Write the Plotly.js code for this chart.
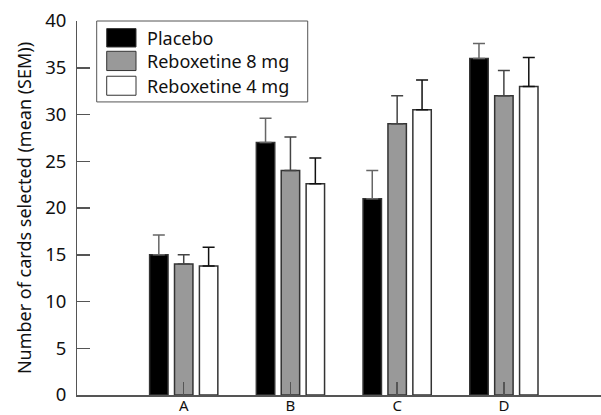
<!DOCTYPE html>
<html>
<head>
<meta charset="utf-8">
<script src="https://cdn.plot.ly/plotly-3.0.1.min.js"></script>
<style>html,body{margin:0;padding:0;background:#fff;}#chart{width:601px;height:415px;}</style>
</head>
<body>
<div id="chart"></div>
<script>
const categories = ["A", "B", "C", "D"];
const seriesNames = ["Placebo", "Reboxetine 8 mg", "Reboxetine 4 mg"];
const placebo = [15, 27, 21, 36];
const reb8 = [14, 24, 29, 32];
const reb4 = [13.8, 22.6, 30.5, 33];
const placeboSem = [2.1, 2.6, 3.0, 1.6];
const reb8Sem = [1.0, 3.6, 3.0, 2.7];
const reb4Sem = [2.0, 2.75, 3.2, 3.1];
const yTicks = [0, 5, 10, 15, 20, 25, 30, 35, 40];

const values = [placebo, reb8, reb4];
const sems = [placeboSem, reb8Sem, reb4Sem];
const fills = ["#000000", "#999999", "#ffffff"];
const errColors = ["#666666", "#444444", "#111111"];
const FONT = "Noto Sans, Lato, sans-serif";

const xIdx = categories.map((c, i) => i);
const traces = values.map((v, k) => ({
  type: "bar",
  name: seriesNames[k],
  x: xIdx,
  y: v,
  marker: {color: fills[k], line: {color: "#333333", width: 1.5}},
  error_y: {type: "data", symmetric: false, array: sems[k], arrayminus: v.map(() => 0),
            color: errColors[k], thickness: 1.5, width: 6},
  showlegend: false,
  hoverinfo: "skip"
}));

// custom legend (paper coordinates)
const legBox = {x0: 0.0376, x1: 0.4403, y0: 0.7836, y1: 1.0};
const sw = [[0.9797, 0.9305], [0.9190, 0.8675], [0.8523, 0.8015]];
const shapes = [{type: "rect", xref: "paper", yref: "paper", x0: legBox.x0, x1: legBox.x1,
                 y0: legBox.y0, y1: legBox.y1, line: {color: "#555555", width: 1}, fillcolor: "#ffffff", layer: "above"}];
const annotations = [];
seriesNames.forEach((n, k) => {
  shapes.push({type: "rect", xref: "paper", yref: "paper", x0: 0.0567, x1: 0.1126,
               y0: sw[k][1], y1: sw[k][0], line: {color: "#333333", width: 1}, fillcolor: fills[k], layer: "above"});
  annotations.push({xref: "paper", yref: "paper", x: 0.1300, y: (sw[k][0] + sw[k][1]) / 2,
                    xanchor: "left", yanchor: "middle", text: n, showarrow: false,
                    font: {family: FONT, size: 18, color: "#111111"}});
});

const layout = {
  width: 601, height: 415,
  margin: {l: 77, r: 0, t: 21, b: 20, pad: 0},
  paper_bgcolor: "#ffffff", plot_bgcolor: "#ffffff",
  barmode: "group", bargap: 0.30, bargroupgap: 0.26,
  font: {family: FONT, color: "#111111"},
  xaxis: {
    range: [-1, 3.91], tickmode: "array", tickvals: xIdx, ticktext: categories,
    showgrid: false, zeroline: false, showline: true, linecolor: "#555555", linewidth: 1.5,
    ticks: "inside", ticklen: 13, tickwidth: 1.5, tickcolor: "#555555",
    ticklabelstandoff: -4,
    tickfont: {family: FONT, size: 15, color: "#111111"}
  },
  yaxis: {
    range: [0, 40], tickmode: "array", tickvals: yTicks,
    showgrid: false, zeroline: false, showline: true, linecolor: "#555555", linewidth: 1,
    ticks: "inside", ticklen: 13, tickwidth: 1.5, tickcolor: "#555555",
    ticklabelstandoff: 6,
    tickfont: {family: FONT, size: 18.5, color: "#111111"},
    title: {text: "Number of cards selected (mean (SEM))", standoff: 8,
            font: {family: FONT, size: 18, color: "#111111"}}
  },
  shapes: shapes,
  annotations: annotations
};

Plotly.newPlot("chart", traces, layout, {displayModeBar: false, staticPlot: true});
</script>
</body>
</html>
